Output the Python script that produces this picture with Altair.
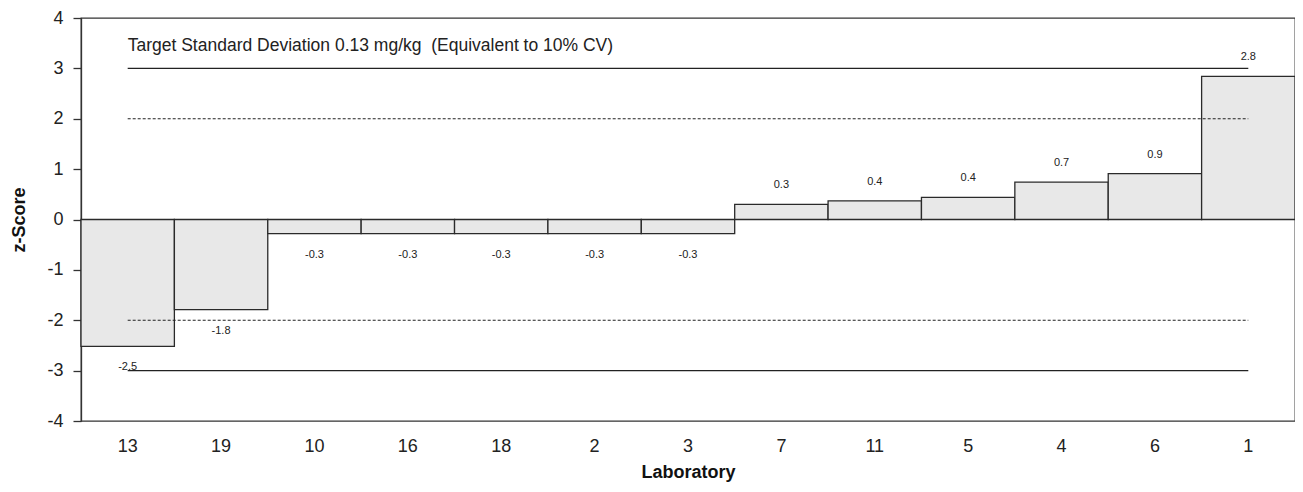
import altair as alt
import pandas as pd

labs = ["13", "19", "10", "16", "18", "2", "3", "7", "11", "5", "4", "6", "1"]
zscores = [-2.52, -1.79, -0.28, -0.28, -0.28, -0.28, -0.28, 0.30, 0.37, 0.44, 0.74, 0.91, 2.84]

ref_levels = [3, 2, -2, -3]
ref_dashed = [False, True, True, False]

note = "Target Standard Deviation 0.13 mg/kg\u00a0 (Equivalent to 10% CV)"

FONT = "Liberation Sans"
LBL = "replace(format(datum.z, '.1f'), '\u2212', '-')"

df = pd.DataFrame({"lab": labs, "z": zscores})
refs = pd.DataFrame({
    "start": [labs[0]] * len(ref_levels),
    "end": [labs[-1]] * len(ref_levels),
    "level": ref_levels,
    "dashed": ref_dashed,
})

xsc = alt.Scale(domain=labs, paddingInner=0, paddingOuter=0)
ysc = alt.Scale(domain=[-4, 4], nice=False, zero=False)

x_enc = alt.X(
    "lab:N", scale=xsc, sort=labs, title="Laboratory",
    axis=alt.Axis(labelAngle=0, ticks=False, domain=False, labelPadding=16,
                  labelFontSize=18, labelFont=FONT, labelColor="#222",
                  titleFont=FONT, titleFontSize=18, titleFontWeight="bold",
                  titleColor="#111", titlePadding=8),
)
y_enc = alt.Y(
    "z:Q", scale=ysc, title="z-Score",
    axis=alt.Axis(values=[-4, -3, -2, -1, 0, 1, 2, 3, 4], grid=False, tickSize=8,
                  tickColor="#333", domainColor="#333", domainWidth=1.3, tickWidth=1.3,
                  labelExpr="replace(datum.label, '\u2212', '-')",
                  labelFontSize=18, labelFont=FONT, labelColor="#222", labelPadding=10,
                  titleFont=FONT, titleFontSize=18, titleFontWeight="bold",
                  titleColor="#111", titlePadding=18),
)

bars = alt.Chart(df).mark_bar(fill="#e8e8e8", stroke="#2a2a2a", strokeWidth=1.3).encode(
    x=x_enc, y=y_enc, y2=alt.datum(0)
)

pos_lbl = alt.Chart(df).transform_filter("datum.z > 0").transform_calculate(
    lbl=LBL
).mark_text(
    font=FONT, fontSize=11, color="#222", dy=-19, baseline="middle"
).encode(x=alt.X("lab:N", scale=xsc, sort=labs), y=alt.Y("z:Q", scale=ysc),
         text="lbl:N")

neg_lbl = alt.Chart(df).transform_filter("datum.z < 0").transform_calculate(
    lbl=LBL
).mark_text(
    font=FONT, fontSize=11, color="#222", dy=21, baseline="middle"
).encode(x=alt.X("lab:N", scale=xsc, sort=labs), y=alt.Y("z:Q", scale=ysc),
         text="lbl:N")

solid = alt.Chart(refs).transform_filter("!datum.dashed").mark_rule(
    color="#222", strokeWidth=1.1
).encode(x=alt.X("start:N", scale=xsc, sort=labs), x2="end:N", y=alt.Y("level:Q", scale=ysc))

dashed = alt.Chart(refs).transform_filter("datum.dashed").mark_rule(
    color="#222", strokeWidth=1, strokeDash=[3, 2]
).encode(x=alt.X("start:N", scale=xsc, sort=labs), x2="end:N", y=alt.Y("level:Q", scale=ysc))

ann = alt.Chart(pd.DataFrame({"t": [note], "lab": [labs[0]], "y": [3.45]})).mark_text(
    font=FONT, fontSize=17.5, color="#222", align="left", baseline="middle"
).encode(x=alt.X("lab:N", scale=xsc, sort=labs), y=alt.Y("y:Q", scale=ysc), text="t:N")

chart = alt.layer(bars, solid, dashed, pos_lbl, neg_lbl, ann).properties(
    width=1214, height=403,
    autosize=alt.AutoSizeParams(type="none"),
    padding={"left": 73, "top": 10, "right": 0, "bottom": 63},
    background="white",
).configure_view(stroke="#333", strokeWidth=1.3)

chart.save("out.html", embed_options={"renderer": "svg", "actions": False})
